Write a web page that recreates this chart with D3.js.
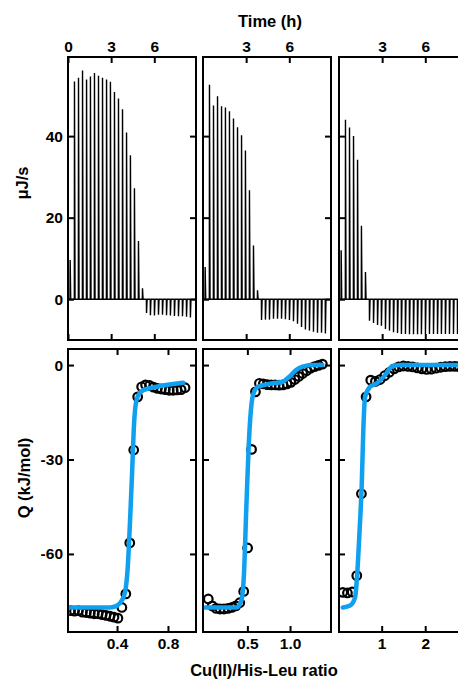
<!DOCTYPE html>
<html>
<head>
<meta charset="utf-8">
<script src="https://cdn.jsdelivr.net/npm/d3@7"></script>
<style>
  html, body { margin: 0; padding: 0; background: #fff; }
  svg { display: block; }
  text { font-family: Arial, "Liberation Sans", sans-serif; font-weight: bold; }
</style>
</head>
<body>
<div id="chart"></div>
<script>
// injection times (h), shared by the three raw ITC traces
const injTimes = [0.14, 0.44, 0.72, 1.00, 1.28, 1.55, 1.83, 2.11, 2.39, 2.67, 2.94,
  3.22, 3.50, 3.78, 4.06, 4.33, 4.61, 4.89, 5.17, 5.45, 5.72, 6.00, 6.28, 6.56,
  6.84, 7.11, 7.39, 7.67, 7.95, 8.23, 8.50]

// peak heights (µJ/s)
const rate1 = [9.6, 53.4, 54.3, 56.1, 53.9, 54.6, 55.5, 54.8, 54.3, 53.9, 53.3, 50.8,
  49.2, 46.6, 40.9, 35.3, 27.2, 14.3, 2.7, -3.4, -3.9, -4.0, -3.8, -3.8, -3.9, -4.0,
  -4.1, -4.2, -4.2, -4.3, -4.5]
const rate2 = [7.9, 52.6, 47.5, 49.8, 47.3, 47.0, 46.1, 44.3, 42.2, 40.2, 36.5, 26.7,
  13.2, 2.2, -5.1, -5.0, -5.0, -4.8, -4.8, -4.8, -4.9, -5.1, -5.4, -6.0, -6.8, -7.4,
  -7.7, -8.0, -8.2, -8.2, -8.4]
const rate3 = [12.0, 44.0, 42.1, 40.0, 34.2, 18.0, 6.7, -5.3, -5.8, -6.3, -6.5, -7.3,
  -7.7, -8.1, -8.3, -8.5, -8.5, -8.6, -8.6, -8.6, -8.6, -8.5, -8.5, -8.5, -8.5, -8.5,
  -8.5, -8.5, -8.5, -8.5, -8.5]

// integrated heats (kJ/mol) vs Cu(II)/His-Leu ratio
const ratio1 = [0.035, 0.066, 0.097, 0.128, 0.159, 0.190, 0.221, 0.252, 0.283, 0.314,
  0.345, 0.376, 0.407, 0.438, 0.469, 0.500, 0.531, 0.562, 0.593, 0.624, 0.655, 0.686,
  0.717, 0.748, 0.779, 0.810, 0.841, 0.872, 0.903, 0.934]
const heat1 = [-78.0, -78.2, -78.0, -78.5, -78.6, -78.8, -79.0, -79.0, -79.3, -79.5,
  -79.8, -80.1, -80.4, -77.0, -72.7, -56.5, -27.0, -10.1, -6.9, -6.3, -6.5, -7.0,
  -7.4, -7.6, -7.8, -8.0, -8.0, -7.9, -7.8, -7.2]
const ratio2 = [0.042, 0.088, 0.134, 0.180, 0.226, 0.273, 0.319, 0.365, 0.411, 0.457,
  0.503, 0.549, 0.595, 0.641, 0.687, 0.734, 0.780, 0.826, 0.872, 0.918, 0.964, 1.010,
  1.056, 1.102, 1.148, 1.195, 1.241, 1.287, 1.333, 1.379]
const heat2 = [-74.3, -76.5, -77.3, -77.5, -77.5, -77.3, -77.0, -76.5, -75.5, -71.9,
  -58.1, -26.8, -8.5, -5.8, -6.0, -6.2, -6.3, -6.3, -6.4, -6.3, -6.0, -5.5, -4.6,
  -3.6, -2.7, -1.8, -1.0, -0.5, -0.1, 0.3]
const ratio3 = [0.107, 0.214, 0.321, 0.428, 0.535, 0.642, 0.749, 0.856, 0.963, 1.070,
  1.177, 1.284, 1.391, 1.498, 1.605, 1.712, 1.819, 1.926, 2.033, 2.140, 2.247, 2.354,
  2.461, 2.568, 2.675, 2.782, 2.889, 2.996, 3.103, 3.210]
const heat3 = [-72.2, -72.4, -72.1, -66.9, -40.9, -10.1, -4.8, -5.2, -4.6, -3.4, -2.3,
  -1.2, -0.6, -0.3, -0.4, -0.6, -0.9, -1.2, -1.4, -1.3, -1.0, -0.7, -0.5, -0.4, -0.4,
  -0.5, -0.4, -0.4, -0.3, -0.3]

// fitted curves
const fit1 = [[0.031, -77.0], [0.345, -77.0], [0.397, -76.5], [0.437, -74.8], [0.463, -72.2],
  [0.484, -64.3], [0.502, -49.6], [0.518, -34.5], [0.531, -20.7], [0.544, -13.3],
  [0.567, -9.6], [0.606, -8.0], [0.711, -6.9], [0.92, -5.6]]
const fit2 = [[0.003, -77.0], [0.372, -77.0], [0.43, -74.8], [0.46, -66.4], [0.488, -45.1],
  [0.515, -26.0], [0.535, -16.5], [0.565, -9.6], [0.623, -6.9], [0.798, -5.8],
  [0.914, -5.3], [0.992, -3.7], [1.07, -1.6], [1.147, -0.5], [1.263, 0], [1.379, 0]]
const fit3 = [[0.107, -77.0], [0.275, -76.4], [0.39, -73.8], [0.428, -68.5], [0.489, -53.6],
  [0.543, -37.7], [0.581, -19.6], [0.619, -10.1], [0.734, -6.9], [0.887, -5.8],
  [1.078, -3.2], [1.232, -0.5], [1.422, 0], [3.2, 0]]

const timeTicks = [[0, 3, 6], [3, 6], [3, 6]]
const rateTicks = [0, 20, 40]
const ratioTicks = [[0.4, 0.8], [0.5, 1.0], [1, 2]]
const heatTicks = [0, -30, -60]
const ratioDomains = [[0.015, 1.02], [-0.02, 1.48], [0.02, 2.96]]
const ratioFormats = ['.1f', '.1f', 'd']

const rates = [rate1, rate2, rate3]
const heats = [heat1, heat2, heat3]
const ratios = [ratio1, ratio2, ratio3]
const fits = [fit1, fit2, fit3]

const width = 458, height = 681
const colX = [68, 203, 339], colW = 128
const topRow = [57, 340], botRow = [349, 632]
const blue = '#0fa0f0'

const svg = d3.select('#chart').append('svg')
  .attr('width', width).attr('height', height)

const yRate = d3.scaleLinear().domain([-10, 59.4]).range([topRow[1], topRow[0]])
const yHeat = d3.scaleLinear().domain([-84.8, 5.1]).range([botRow[1], botRow[0]])

function frameAxes(g, x, y, y0, y1, xt, yt, xfmt, showXTop, showXBot, showY) {
  const tl = 6
  g.append('g').attr('transform', `translate(0,${y0})`)
    .call(d3.axisTop(x).tickValues(xt).tickSize(-tl).tickPadding(5)
      .tickFormat(showXTop ? xfmt : ''))
  g.append('g').attr('transform', `translate(0,${y1})`)
    .call(d3.axisBottom(x).tickValues(xt).tickSize(-tl).tickPadding(6)
      .tickFormat(showXBot ? xfmt : ''))
  const x0 = x.range()[0], x1 = x.range()[1]
  g.append('g').attr('transform', `translate(${x0},0)`)
    .call(d3.axisLeft(y).tickValues(yt).tickSize(-tl).tickPadding(5)
      .tickFormat(showY ? d => String(d) : ''))
  g.append('g').attr('transform', `translate(${x1},0)`)
    .call(d3.axisRight(y).tickValues(yt).tickSize(-tl).tickFormat(''))
  g.selectAll('.domain').remove()
  g.selectAll('.tick line').attr('stroke', '#000').attr('stroke-width', 2)
  g.selectAll('.tick text').attr('font-size', 15.5).attr('fill', '#000')
    .style('font-family', 'Arial, "Liberation Sans", sans-serif').style('font-weight', 'bold')
  g.append('rect')
    .attr('x', x0).attr('y', y0).attr('width', x1 - x0).attr('height', y1 - y0)
    .attr('fill', 'none').attr('stroke', '#000').attr('stroke-width', 2)
}

colX.forEach((cx, i) => {
  // ---- raw heat rate trace
  const xt = d3.scaleLinear().domain([0, 8.9]).range([cx, cx + colW])
  const gTop = svg.append('g')
  const clipT = 'clipT' + i
  svg.append('clipPath').attr('id', clipT).append('rect')
    .attr('x', cx).attr('y', topRow[0]).attr('width', colW).attr('height', topRow[1] - topRow[0])

  const pts = [[0, 0]]
  injTimes.forEach((t, k) => {
    pts.push([t, 0], [t + 0.01, rates[i][k]], [t + 0.05, 0])
  })
  pts.push([8.9, 0])
  gTop.append('path')
    .attr('clip-path', `url(#${clipT})`)
    .attr('d', d3.line().x(d => xt(d[0])).y(d => yRate(d[1]))(pts))
    .attr('fill', 'none').attr('stroke', '#000').attr('stroke-width', 1.4)
    .attr('stroke-linejoin', 'bevel')

  frameAxes(gTop, xt, yRate, topRow[0], topRow[1], timeTicks[i], rateTicks,
    d => String(d), true, false, i === 0)

  // ---- integrated heats
  const xr = d3.scaleLinear().domain(ratioDomains[i]).range([cx, cx + colW])
  const gBot = svg.append('g')
  const clipB = 'clipB' + i
  svg.append('clipPath').attr('id', clipB).append('rect')
    .attr('x', cx).attr('y', botRow[0]).attr('width', colW).attr('height', botRow[1] - botRow[0])

  gBot.append('g').attr('clip-path', `url(#${clipB})`)
    .selectAll('circle')
    .data(ratios[i].map((r, k) => [r, heats[i][k]]))
    .join('circle')
    .attr('cx', d => xr(d[0])).attr('cy', d => yHeat(d[1]))
    .attr('r', 4.3)
    .attr('fill', 'none').attr('stroke', '#000').attr('stroke-width', 2.2)

  gBot.append('path')
    .attr('clip-path', `url(#${clipB})`)
    .attr('d', d3.line().curve(d3.curveMonotoneX)
      .x(d => xr(d[0])).y(d => yHeat(d[1]))(fits[i]))
    .attr('fill', 'none').attr('stroke', blue).attr('stroke-width', 4.5)
    .attr('stroke-linecap', 'round')

  frameAxes(gBot, xr, yHeat, botRow[0], botRow[1], ratioTicks[i], heatTicks,
    d3.format(ratioFormats[i]), false, true, i === 0)
})

// axis titles
svg.append('text').attr('x', 270).attr('y', 27).attr('text-anchor', 'middle')
  .attr('font-size', 16.5).text('Time (h)')
svg.append('text').attr('x', 264).attr('y', 676).attr('text-anchor', 'middle')
  .attr('font-size', 16.5).text('Cu(II)/His-Leu ratio')
svg.append('text').attr('transform', 'translate(28,183) rotate(-90)')
  .attr('text-anchor', 'middle').attr('font-size', 16.5).text('μJ/s')
svg.append('text').attr('transform', 'translate(30,478) rotate(-90)')
  .attr('text-anchor', 'middle').attr('font-size', 16.5).text('Q (kJ/mol)')
</script>
</body>
</html>
